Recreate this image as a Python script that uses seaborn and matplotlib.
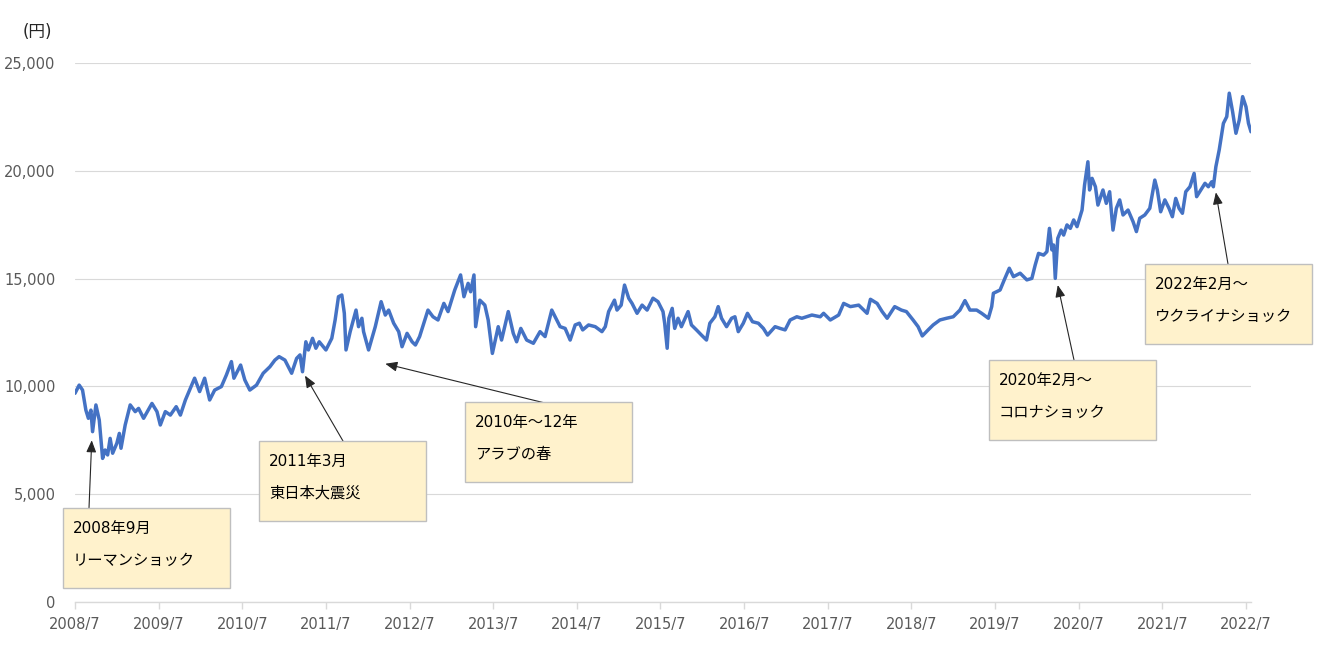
import matplotlib
matplotlib.use("Agg")
import matplotlib.pyplot as plt
from matplotlib.patches import Rectangle
import pandas as pd
import seaborn as sns

# 時期(年の小数表記)と価格(円) — グラフから読み取った値
years = [2008.50, 2008.55, 2008.59, 2008.63, 2008.66, 2008.69, 2008.71, 2008.75, 2008.79, 2008.83,
         2008.86, 2008.89, 2008.92, 2008.95, 2009.00, 2009.03, 2009.05, 2009.10, 2009.16, 2009.22,
         2009.26, 2009.32, 2009.42, 2009.48, 2009.52, 2009.58, 2009.64, 2009.71, 2009.76, 2009.82,
         2009.87, 2009.93, 2009.99, 2010.05, 2010.11, 2010.17, 2010.25, 2010.31, 2010.37, 2010.40,
         2010.48, 2010.53, 2010.59, 2010.67, 2010.75, 2010.83, 2010.89, 2010.94, 2011.01, 2011.09,
         2011.15, 2011.19, 2011.22,
         2011.26, 2011.29, 2011.34, 2011.38, 2011.42, 2011.50, 2011.57, 2011.61, 2011.65, 2011.69,
         2011.72, 2011.74, 2011.79, 2011.86, 2011.89, 2011.93, 2011.95, 2012.01, 2012.09, 2012.16,
         2012.21, 2012.25, 2012.31, 2012.37, 2012.41, 2012.47, 2012.53, 2012.57, 2012.62, 2012.72,
         2012.78, 2012.84, 2012.91, 2012.96, 2013.04, 2013.11, 2013.15, 2013.20, 2013.23, 2013.27,
         2013.29, 2013.34, 2013.40, 2013.44, 2013.49, 2013.56, 2013.60, 2013.68, 2013.74, 2013.78,
         2013.83, 2013.90, 2013.98, 2014.06, 2014.12, 2014.20,
         2014.30, 2014.36, 2014.42, 2014.48, 2014.53, 2014.57, 2014.64, 2014.72, 2014.80, 2014.84,
         2014.88, 2014.95, 2014.98, 2015.03, 2015.07, 2015.12, 2015.16, 2015.22, 2015.28, 2015.34,
         2015.41, 2015.47, 2015.53, 2015.55, 2015.58, 2015.60, 2015.64, 2015.67, 2015.71, 2015.75,
         2015.83, 2015.87, 2015.93, 2015.99, 2016.05, 2016.09, 2016.15, 2016.19, 2016.23, 2016.29,
         2016.35, 2016.39, 2016.43, 2016.49, 2016.54, 2016.60, 2016.67, 2016.73, 2016.78, 2016.87,
         2016.93, 2016.99, 2017.05, 2017.13, 2017.19,
         2017.31, 2017.41, 2017.45, 2017.53, 2017.63, 2017.69, 2017.77, 2017.87, 2017.97, 2018.01,
         2018.09, 2018.15, 2018.21, 2018.30, 2018.38, 2018.44, 2018.52, 2018.58, 2018.63, 2018.70,
         2018.76, 2018.84, 2018.92, 2019.00, 2019.08, 2019.14, 2019.20, 2019.28, 2019.34, 2019.42,
         2019.46, 2019.48, 2019.56, 2019.61, 2019.67, 2019.72, 2019.80, 2019.88, 2019.94,
         2019.98, 2020.02, 2020.08, 2020.12, 2020.15, 2020.18, 2020.20, 2020.22, 2020.25, 2020.29,
         2020.32, 2020.36, 2020.40, 2020.44, 2020.48, 2020.54, 2020.57, 2020.61, 2020.63, 2020.66,
         2020.70, 2020.73, 2020.79, 2020.83, 2020.87, 2020.91, 2020.95, 2020.99, 2021.03, 2021.09,
         2021.15, 2021.19, 2021.23, 2021.29, 2021.35, 2021.41, 2021.44, 2021.48, 2021.53, 2021.58,
         2021.62, 2021.66, 2021.70, 2021.74, 2021.78, 2021.83, 2021.88, 2021.91, 2021.96, 2022.01,
         2022.05, 2022.09, 2022.11, 2022.14, 2022.18, 2022.23, 2022.27, 2022.30, 2022.34, 2022.38,
         2022.42, 2022.46, 2022.50, 2022.53, 2022.56]
price = [9680, 10060, 9830, 8900, 8520, 8900, 7900, 9140, 8440, 6660,
         7050, 6820, 7590, 6900, 7360, 7820, 7130, 8210, 9140, 8830,
         8980, 8520, 9210, 8830, 8210, 8830, 8670, 9060, 8670, 9370,
         9830, 10380, 9760, 10380, 9370, 9830, 9990, 10530, 11150, 10380,
         10990, 10300, 9830, 10060, 10610, 10910, 11220, 11380, 11220, 10610,
         11300, 11460, 10680,
         12070, 11690, 12230, 11770, 12070, 11690, 12230, 13080, 14160, 14240,
         13390, 11690, 12540, 13540, 12770, 13160, 12540, 11690, 12770, 13930,
         13310, 13540, 12930, 12540, 11840, 12460, 12070, 11920, 12310, 13540,
         13230, 13080, 13850, 13470, 14470, 15170, 14160, 14780, 14390, 15170,
         12770, 14000, 13770, 13080, 11530, 12770, 12150, 13470, 12460, 12070,
         12690, 12150, 12000, 12540, 12310, 13540,
         12770, 12690, 12150, 12850, 12930, 12620, 12850, 12770, 12540, 12770,
         13470, 14000, 13540, 13770, 14700, 14090, 13850, 13390, 13770, 13540,
         14090, 13930, 13470, 12930, 11770, 13160, 13620, 12690, 13160, 12770,
         13470, 12850, 12620, 12380, 12150, 12930, 13230, 13700, 13160, 12770,
         13160, 13230, 12540, 12930, 13390, 13000, 12930, 12690, 12380, 12770,
         12690, 12620, 13080, 13230, 13160,
         13310, 13230, 13390, 13080, 13310, 13850, 13700, 13770, 13390, 14040,
         13850, 13470, 13160, 13700, 13540, 13470, 13080, 12770, 12340, 12620,
         12850, 13080, 13160, 13230, 13540, 13980, 13540, 13540, 13390, 13160,
         13700, 14320, 14470, 14940, 15480, 15090, 15250, 14940, 15010,
         15630, 16170, 16090, 16250, 17330, 16330, 16560, 15010, 16870, 17250,
         17020, 17490, 17330, 17720, 17410, 18180, 19340, 20420, 19110, 19650,
         19260, 18410, 19110, 18490, 19030, 17250, 18260, 18650, 17950, 18180,
         17640, 17180, 17800, 17950, 18260, 19570, 19110, 18100, 18650, 18260,
         17870, 18720, 18260, 18030, 19030, 19260, 19880, 18800, 19110, 19420,
         19260, 19490, 19260, 20190, 20970, 22200, 22510, 23600, 22740, 21740,
         22360, 23440, 22970, 22200, 21810]
assert len(years) == len(price)

tick_labels = ["2008/7", "2009/7", "2010/7", "2011/7", "2012/7", "2013/7", "2014/7", "2015/7",
               "2016/7", "2017/7", "2018/7", "2019/7", "2020/7", "2021/7", "2022/7"]
y_ticks = [0, 5000, 10000, 15000, 20000, 25000]

event_dates = ["2008年9月", "2011年3月", "2010年～12年", "2020年2月～", "2022年2月～"]
event_names = ["リーマンショック", "東日本大震災", "アラブの春", "コロナショック", "ウクライナショック"]
event_years = [2008.70, 2011.25, 2012.21, 2020.25, 2022.14]
event_price = [7500, 10500, 11050, 14700, 19000]

sns.set_style("white")
plt.rcParams['font.family'] = ['DejaVu Sans', 'Noto Sans CJK JP']

W, H = 1320, 659
fig = plt.figure(figsize=(W / 100, H / 100), dpi=100)
ax = fig.add_axes([75 / W, 1 - 602 / H, (1251 - 75) / W, (602 - 63) / H])

df = pd.DataFrame({"year": years, "price": price})
sns.lineplot(data=df, x="year", y="price", ax=ax, color="#4472C4", linewidth=2.5)

ax.set_xlim(years[0], years[-1])
ax.set_ylim(0, 25000)
ax.set_xticks([2008.5 + i for i in range(len(tick_labels))])
ax.set_xticklabels(tick_labels)
ax.set_yticks(y_ticks)
ax.set_yticklabels([f"{v:,}" for v in y_ticks])
ax.set_xlabel("")
ax.set_ylabel("")

for s in ["top", "right", "left"]:
    ax.spines[s].set_visible(False)
ax.spines["bottom"].set_color("#D9D9D9")
ax.spines["bottom"].set_linewidth(1)
ax.grid(axis="y", color="#D9D9D9", linewidth=0.8)
ax.grid(axis="x", visible=False)
ax.set_axisbelow(True)
ax.tick_params(axis="x", length=5, color="#D9D9D9", width=1, pad=6,
               labelcolor="#595959", labelsize=10.5, bottom=True)
ax.tick_params(axis="y", length=0, pad=14, labelcolor="#595959", labelsize=10.5)

fig.text(37 / W, 1 - 32 / H, "(円)", ha="center", va="center", fontsize=12, color="#262626")

# 注釈ボックス(左上の位置, ピクセル)と矢印の始点
box_pos = [(63, 508), (259, 441), (465, 402), (989, 360), (1145, 264)]
arrow_start = [(89, 508), (343, 441), (549, 404), (1074, 360), (1228, 264)]
bw, bh = 167, 80

for i in range(len(event_names)):
    l, t = box_pos[i]
    fig.add_artist(Rectangle((l / W, 1 - (t + bh) / H), bw / W, bh / H,
                             transform=fig.transFigure, facecolor="#FFF2CC",
                             edgecolor="#BFBFBF", linewidth=1, zorder=3))
    fig.text((l + 10) / W, 1 - (t + 20) / H, event_dates[i], va="center",
             fontsize=11, color="black", zorder=4)
    fig.text((l + 10) / W, 1 - (t + 52) / H, event_names[i], va="center",
             fontsize=11, color="black", zorder=4)
    sx, sy = arrow_start[i]
    ax.annotate("", xy=(event_years[i], event_price[i]), xytext=(sx, H - sy),
                textcoords="figure pixels", annotation_clip=False,
                arrowprops=dict(arrowstyle="-|>,head_length=0.6,head_width=0.25",
                                color="#262626", lw=0.8, shrinkA=0, shrinkB=0,
                                mutation_scale=12))

fig.savefig("out.png", dpi=100)
